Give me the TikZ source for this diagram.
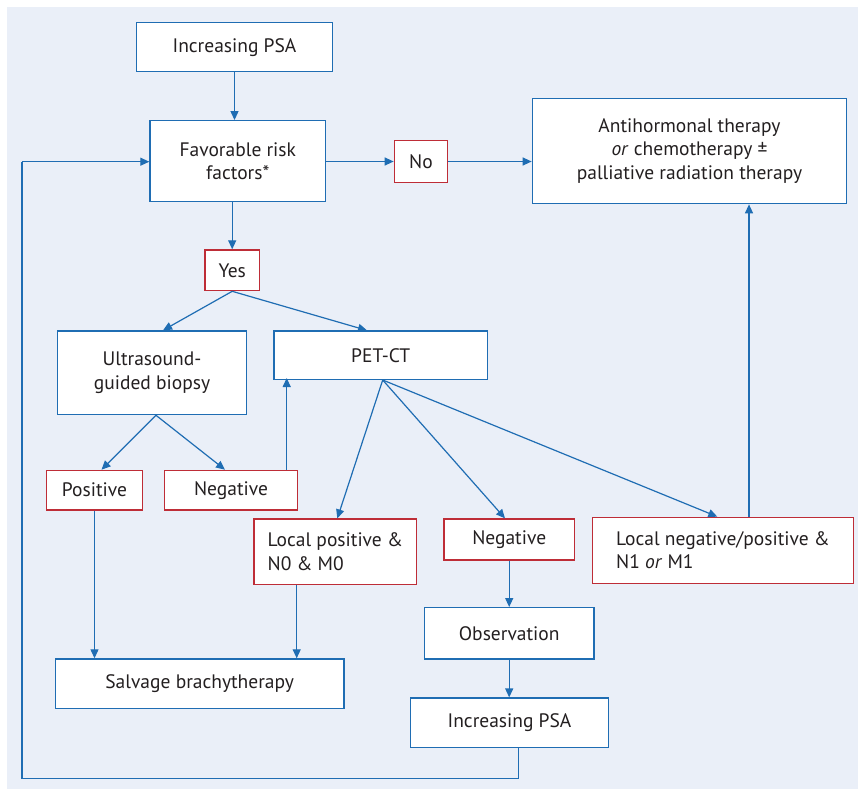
\documentclass[tikz,border=0pt]{standalone}
\usepackage{fontspec}
\setmainfont{PT Sans}
\usetikzlibrary{arrows.meta}
\definecolor{bluec}{HTML}{1F6DB3}
\definecolor{redc}{HTML}{BE2D37}
\definecolor{bgc}{HTML}{EAEFF8}
\definecolor{txtc}{HTML}{231F20}
\begin{document}
\begin{tikzpicture}[x=1pt,y=-1pt,
  bbox/.style={draw=bluec, line width=1.3pt, fill=white, align=center, inner sep=0pt,
     text=txtc, font=\fontsize{19.5}{23.5}\selectfont},
  rbox/.style={bbox, draw=redc},
  arr/.style={draw=bluec, line width=1.2pt, -{Triangle[length=9pt,width=8pt]}},
  ln/.style={draw=bluec, line width=1.2pt}]
\useasboundingbox[fill=white] (0,0) rectangle (858,790);
\fill[bgc] (7,7) rectangle (858,789);

\node[bbox, minimum width=195.6pt, minimum height=49pt] (ipsa1) at (234.5,47.2) {Increasing PSA};
\node[bbox, minimum width=175.7pt, minimum height=80.6pt] (fav) at (237.8,161) {Favorable risk\\factors*};
\node[rbox, minimum width=53.4pt, minimum height=41.6pt] (no) at (421,161.5) {No};
\node[bbox, minimum width=314.4pt, minimum height=105.4pt] (anti) at (689.5,151) {Antihormonal therapy\\\textit{or} chemotherapy ±\\palliative radiation therapy};
\node[rbox, minimum width=54.3pt, minimum height=40.7pt] (yes) at (232.2,270.3) {Yes};
\node[bbox, minimum width=189.4pt, minimum height=83.7pt] (us) at (152,372.8) {Ultrasound-\\guided biopsy};
\node[bbox, minimum width=213.3pt, minimum height=48.3pt] (pet) at (380.7,355.2) {PET-CT};
\node[rbox, minimum width=95.6pt, minimum height=39.7pt] (pos) at (94.5,490.2) {Positive};
\node[rbox, minimum width=132.6pt, minimum height=39.7pt] (neg1) at (231,490.2) {Negative};
\node[rbox, minimum width=162.7pt, minimum height=65.3pt, align=left] (lpos) at (335.3,551.7) {Local positive \&\\N0 \& M0};
\node[rbox, minimum width=130.3pt, minimum height=41pt] (neg2) at (509.2,539.5) {Negative};
\node[rbox, minimum width=260.6pt, minimum height=66pt, align=left] (lneg) at (723,550.3) {Local negative/positive \&\\N1 \textit{or} M1};
\node[bbox, minimum width=169.7pt, minimum height=51.3pt] (obs) at (509.2,633.3) {Observation};
\node[bbox, minimum width=288.7pt, minimum height=49.7pt] (salv) at (199.7,683.8) {Salvage brachytherapy};
\node[bbox, minimum width=197.6pt, minimum height=49.3pt] (ipsa2) at (509.5,722.7) {Increasing PSA};

\coordinate (lbr) at (518.3,778.7);
\coordinate (lbl) at (22,778.7);
\coordinate (ltl) at (22,161.7);
\coordinate (lposout) at ([xshift=-38.6pt]lpos.south);
\coordinate (lnegout) at ([xshift=26pt]lneg.north);
\coordinate (neg1out) at ([xshift=55.7pt]neg1.north);
\coordinate (petout) at ([xshift=2pt]pet.south);
\coordinate (usout) at ([xshift=4pt]us.south);

\draw[arr] (ipsa1.south) -- (fav.north -| ipsa1.south);
\draw[arr] (fav.south -| yes.north) -- (yes.north);
\draw[arr] (fav.east |- no.west) -- (no.west);
\draw[arr] (no.east) -- (no.east -| anti.west);
\draw[arr] (yes.south) -- ([xshift=11pt]us.north);
\draw[arr] (yes.south) -- ([xshift=-13.7pt]pet.north);
\draw[arr] (usout) -- ([xshift=7pt]pos.north);
\draw[arr] (usout) -- ([xshift=-6pt]neg1.north);
\draw[arr] (neg1out) -- ([yshift=2pt]pet.south -| neg1out);
\draw[arr] (petout) -- ([xshift=2pt]lpos.north);
\draw[arr] (petout) -- ([xshift=-4.2pt]neg2.north);
\draw[arr] (petout) -- ([xshift=-5.7pt]lneg.north);
\draw[arr] (neg2.south) -- (obs.north -| neg2.south);
\draw[arr] (obs.south) -- (ipsa2.north -| obs.south);
\draw[arr] (pos.south) -- (salv.north -| pos.south);
\draw[arr] (lposout) -- (salv.north -| lposout);
\draw[arr] (lnegout) -- (anti.south -| lnegout);
\draw[ln] (ipsa2.south -| lbr) -- (lbr) -- (lbl) -- (ltl);
\draw[arr] (ltl) -- (fav.west |- ltl);
\end{tikzpicture}
\end{document}
